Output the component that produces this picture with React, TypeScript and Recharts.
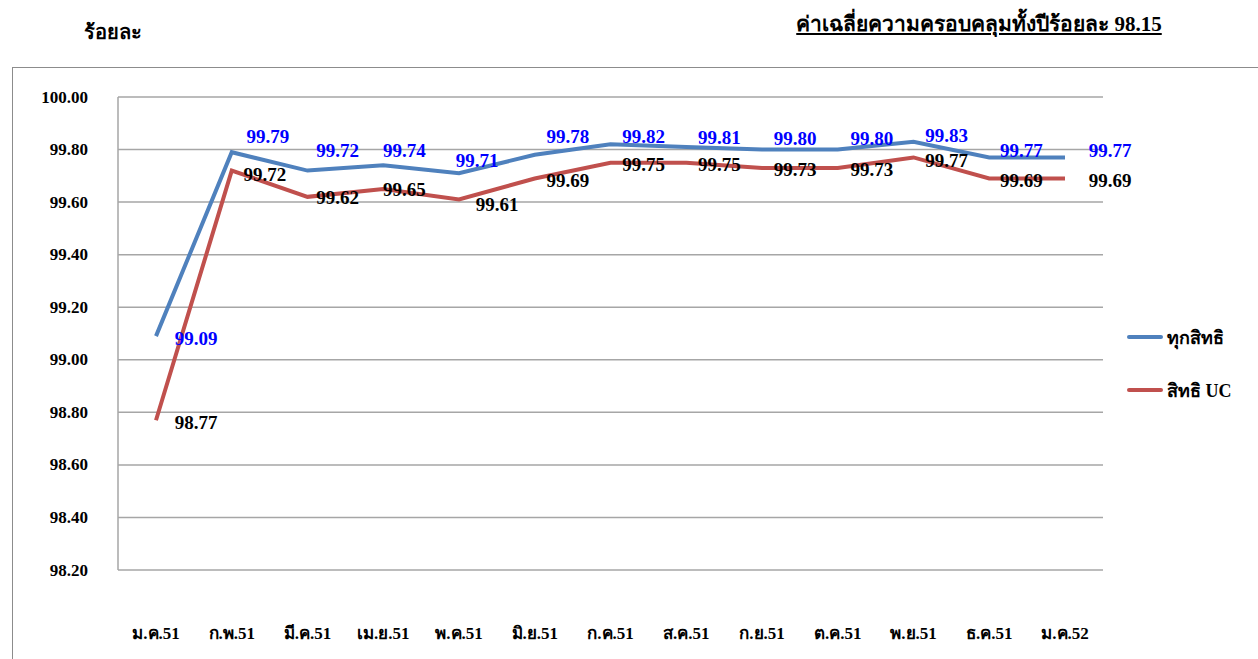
import React from 'react';
import { LineChart, Line, XAxis, YAxis, CartesianGrid, LabelList } from 'recharts';

const months = ['ม.ค.51', 'ก.พ.51', 'มี.ค.51', 'เม.ย.51', 'พ.ค.51', 'มิ.ย.51', 'ก.ค.51', 'ส.ค.51', 'ก.ย.51', 'ต.ค.51', 'พ.ย.51', 'ธ.ค.51', 'ม.ค.52'];
const allRights = [99.09, 99.79, 99.72, 99.74, 99.71, 99.78, 99.82, 99.81, 99.80, 99.80, 99.83, 99.77, 99.77];
const ucRights = [98.77, 99.72, 99.62, 99.65, 99.61, 99.69, 99.75, 99.75, 99.73, 99.73, 99.77, 99.69, 99.69];
const yTicks = [98.2, 98.4, 98.6, 98.8, 99.0, 99.2, 99.4, 99.6, 99.8, 100.0];
const seriesNames = ['ทุกสิทธิ', 'สิทธิ UC'];
const unitLabel = 'ร้อยละ';
const titleText = 'ค่าเฉลี่ยความครอบคลุมทั้งปีร้อยละ 98.15';

const data = months.map((m, i) => ({ month: m, all: allRights[i], uc: ucRights[i] }));

// label placement offsets (style only)
const blueOffsets: [number, number][] = [
  [40, 2], [36, -16], [30, -20], [21, -15], [18, -13], [33, -18], [33, -8], [33, -9], [33, -11], [34, -11], [33, -6], [32, -7], [45, -7],
];
const redOffsets: [number, number][] = [
  [40, 2], [33, 4], [30, 1], [21, 1], [38, 5], [33, 2], [33, 2], [33, 2], [33, 2], [34, 2], [33, 3], [32, 2], [45, 2],
];

const FONT = '"Liberation Serif", "Times New Roman", serif';
const BLUE = '#4F81BD';
const RED = '#C0504D';

const makeLabel = (offsets: [number, number][], color: string) => (props: any) => {
  const { x, y, value, index } = props;
  const [dx, dy] = offsets[index] || [33, 0];
  return (
    <text
      x={x + dx}
      y={y + dy}
      textAnchor="middle"
      dominantBaseline="central"
      fontFamily={FONT}
      fontWeight="bold"
      fontSize={19}
      fill={color}
    >
      {Number(value).toFixed(2)}
    </text>
  );
};

const XTick = (props: any) => {
  const { x, y, payload } = props;
  return (
    <text x={x} y={y + 55} textAnchor="middle" dominantBaseline="central" fontFamily={FONT} fontWeight="bold" fontSize={17} fill="#000">
      {payload.value}
    </text>
  );
};

const YTick = (props: any) => {
  const { x, y, payload } = props;
  return (
    <text x={88} y={y} textAnchor="end" dominantBaseline="central" fontFamily={FONT} fontWeight="bold" fontSize={17} fill="#000">
      {Number(payload.value).toFixed(2)}
    </text>
  );
};

const LegendBox = () => (
  <div style={{ position: 'absolute', left: 1127, top: 322, fontFamily: FONT, fontWeight: 'bold', fontSize: 18 }}>
    {seriesNames.map((n, i) => (
      <div key={n} style={{ display: 'flex', alignItems: 'center', height: 30, marginBottom: i === 0 ? 23 : 0 }}>
        <div style={{ width: 36, height: 4, background: i === 0 ? BLUE : RED, marginRight: 4, borderRadius: 2 }} />
        <span>{n}</span>
      </div>
    ))}
  </div>
);

export default function App() {
  return (
    <div style={{ position: 'absolute', left: 0, top: 0, width: 1258, height: 659, background: '#fff', overflow: 'hidden' }}>
      <div style={{ position: 'absolute', left: 84, top: 16, fontFamily: FONT, fontWeight: 'bold', fontSize: 20 }}>{unitLabel}</div>
      <div style={{ position: 'absolute', left: 780, top: 7, width: 398, textAlign: 'center', fontFamily: FONT, fontWeight: 'bold', fontSize: 21, textDecoration: 'underline' }}>{titleText}</div>
      <div style={{ position: 'absolute', left: 12, top: 67, width: 1260, height: 620, border: '1px solid #8c8c8c' }} />
      <div style={{ position: 'absolute', left: 0, top: 0 }}>
        <LineChart width={1258} height={659} data={data} margin={{ top: 97, right: 155, bottom: 0, left: 0 }}>
          <CartesianGrid vertical={false} stroke="#a6a6a6" strokeWidth={1.5} />
          <XAxis
            dataKey="month"
            height={89}
            axisLine={false}
            tickLine={false}
            interval={0}
            padding={{ left: 38, right: 38 }}
            tick={<XTick />}
          />
          <YAxis
            width={118}
            domain={[98.2, 100]}
            ticks={yTicks}
            interval={0}
            axisLine={{ stroke: '#a6a6a6', strokeWidth: 1.5 }}
            tickLine={false}
            tick={<YTick />}
          />
          <Line type="linear" dataKey="all" stroke={BLUE} strokeWidth={4} dot={false} isAnimationActive={false}>
            <LabelList dataKey="all" content={makeLabel(blueOffsets, '#0000FF')} />
          </Line>
          <Line type="linear" dataKey="uc" stroke={RED} strokeWidth={4} dot={false} isAnimationActive={false}>
            <LabelList dataKey="uc" content={makeLabel(redOffsets, '#000')} />
          </Line>
        </LineChart>
      </div>
      <LegendBox />
    </div>
  );
}
